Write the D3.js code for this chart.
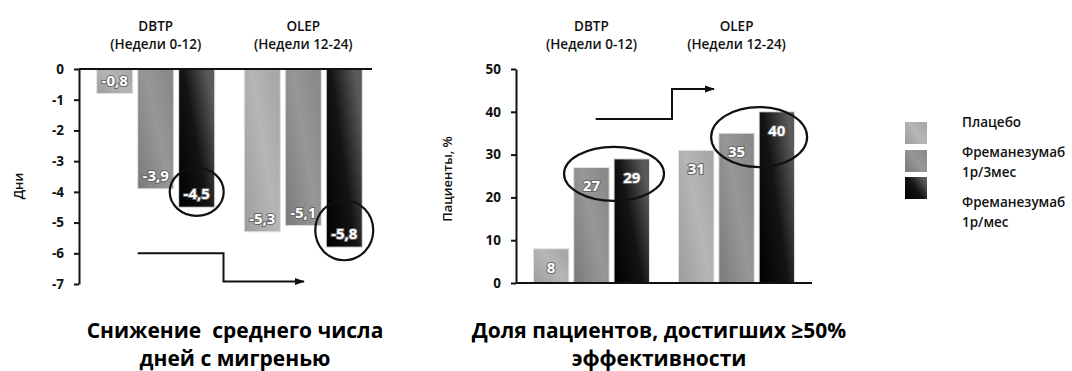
<!DOCTYPE html>
<html><head><meta charset="utf-8">
<script src="https://cdn.jsdelivr.net/npm/d3@7"></script>
<style>
html,body{margin:0;padding:0;background:#fff;}
svg{display:block;font-family:"Open Sans","Noto Sans",sans-serif;}
.pre{white-space:pre;}
</style></head><body>
<svg id="c" width="1072" height="371"></svg>
<script>
const groups = ["DBTP", "OLEP"];
const groupSub = ["(Недели 0-12)", "(Недели 12-24)"];
const series = ["Плацебо", "Фреманезумаб 1р/3мес", "Фреманезумаб 1р/мес"];
const legendLines = [["Плацебо"], ["Фреманезумаб", "1р/3мес"], ["Фреманезумаб", "1р/мес"]];
const daysValues = [[-0.8, -3.9, -4.5], [-5.3, -5.1, -5.8]];
const daysLabels = [["-0,8", "-3,9", "-4,5"], ["-5,3", "-5,1", "-5,8"]];
const respValues = [[8, 27, 29], [31, 35, 40]];
const daysTicks = [0, -1, -2, -3, -4, -5, -6, -7];
const respTicks = [0, 10, 20, 30, 40, 50];
const titleLeft = ["Снижение  среднего числа", "дней с мигренью"];
const titleRight = ["Доля пациентов, достигших ≥50%", "эффективности"];

const svg = d3.select("#c");
const defs = svg.append("defs");
const grads = [
  ["g0", [["0%", "#9c9c9c"], ["60%", "#b6b6b6"], ["100%", "#a8a8a8"]]],
  ["g1", [["0%", "#7a7a7a"], ["60%", "#979797"], ["100%", "#8a8a8a"]]],
  ["g2", [["0%", "#000"], ["55%", "#141414"], ["100%", "#5a5a5a"]]]
];
grads.forEach(([id, stops]) => {
  const g = defs.append("linearGradient").attr("id", id).attr("x1", "0").attr("y1", "1").attr("x2", "1").attr("y2", "0.3");
  stops.forEach(s => g.append("stop").attr("offset", s[0]).attr("stop-color", s[1]));
});
defs.append("marker").attr("id", "arr").attr("viewBox", "0 0 10 10").attr("refX", 9).attr("refY", 5)
  .attr("markerWidth", 5).attr("markerHeight", 5).attr("orient", "auto")
  .append("path").attr("d", "M0,1.5 L10,5 L0,8.5 Z").attr("fill", "#111");

function chart(opt) {
  const g = svg.append("g");
  const x0 = d3.scaleBand().domain(groups).range(opt.xr).paddingInner(0.2).paddingOuter(0.12);
  const x1 = d3.scaleBand().domain(series).range([0, x0.bandwidth()]).paddingInner(0.12);
  const y = d3.scaleLinear().domain(opt.yd).range(opt.yr);
  groups.forEach((gr, gi) => {
    series.forEach((s, si) => {
      const v = opt.values[gi][si];
      const bx = x0(gr) + x1(s);
      g.append("rect").attr("x", bx).attr("width", x1.bandwidth())
        .attr("y", Math.min(y(0), y(v))).attr("height", Math.abs(y(v) - y(0)))
        .attr("fill", `url(#g${si})`).attr("stroke", "#e4e4e4").attr("stroke-width", 1);
      g.append("text").attr("x", bx + x1.bandwidth() / 2).attr("y", y(v) + opt.labelOff)
        .attr("text-anchor", "middle").attr("font-size", 15).attr("font-weight", "bold")
        .attr("fill", "#fff").attr("stroke", "#666").attr("stroke-width", 2).attr("paint-order", "stroke")
        .text(opt.labels[gi][si]);
    });
    g.append("text").attr("x", x0(gr) + x0.bandwidth() / 2).attr("y", 31).attr("text-anchor", "middle")
      .attr("font-size", 13.5).attr("font-weight", 600).attr("fill", "#111").text(gr);
    g.append("text").attr("x", x0(gr) + x0.bandwidth() / 2).attr("y", 49).attr("text-anchor", "middle")
      .attr("font-size", 13.5).attr("font-weight", 600).attr("fill", "#111").text(groupSub[gi]);
  });
  const ya = g.append("g").attr("transform", `translate(${opt.xr[0]},0)`)
    .call(d3.axisLeft(y).tickValues(opt.ticks).tickSize(5).tickSizeOuter(0).tickFormat(d3.format("d")));
  ya.select(".domain").attr("stroke", "#111").attr("stroke-width", 2);
  ya.selectAll(".tick line").attr("stroke", "#111").attr("stroke-width", 2);
  ya.selectAll(".tick text").attr("font-size", 13.5).attr("font-weight", "bold").attr("fill", "#111")
    .attr("font-family", "Open Sans").attr("x", -15).text(d => d < 0 ? "-" + Math.abs(d) : d);
  g.append("line").attr("x1", opt.xr[0]).attr("x2", opt.axEnd).attr("y1", y(0)).attr("y2", y(0))
    .attr("stroke", "#111").attr("stroke-width", 2);
  g.append("text").attr("transform", `translate(${opt.ylabX},${opt.ylabY}) rotate(-90)`)
    .attr("text-anchor", "middle").attr("font-size", 13).attr("font-weight", 600).attr("fill", "#111").text(opt.ylab);
  opt.title.forEach((t, i) => g.append("text").attr("class", "pre").attr("x", opt.titleX).attr("y", 338 + i * 27.5)
    .attr("text-anchor", "middle").attr("font-size", 21).attr("font-weight", "bold").attr("fill", "#000")
    .text(t));
  return {g, x0, x1, y};
}

const L = chart({xr: [79, 380], axEnd: 372, yd: [-7, 0], yr: [284, 69], values: daysValues, labels: daysLabels,
  labelOff: -8, ticks: daysTicks, ylab: "Дни", ylabX: 23, ylabY: 186, title: titleLeft, titleX: 235});
const R = chart({xr: [516, 812], axEnd: 812, yd: [0, 50], yr: [283, 69], values: respValues, labels: respValues,
  labelOff: 24, ticks: respTicks, ylab: "Пациенты, %", ylabX: 452, ylabY: 179, title: titleRight, titleX: 659});

function ell(C, gi, si, edge, yv, rx, ry) {
  const cx = C.x0(groups[gi]) + C.x1(series[si]) + (edge ? 0 : C.x1.bandwidth() / 2);
  C.g.append("ellipse").attr("cx", cx).attr("cy", C.y(yv)).attr("rx", rx).attr("ry", ry)
    .attr("fill", "none").attr("stroke", "#111").attr("stroke-width", 2.2);
}
ell(L, 0, 2, false, -4.0, 27, 24);
ell(L, 1, 2, false, -5.25, 29, 30);
ell(R, 0, 2, true, 25.5, 50, 27);
ell(R, 1, 2, true, 34.1, 48, 30);

function arrow(C, pts) {
  C.g.append("path").attr("d", d3.line()(pts)).attr("fill", "none").attr("stroke", "#111")
    .attr("stroke-width", 2).attr("marker-end", "url(#arr)");
}
const lx = L.x0(groups[0]) + L.x1(series[1]);
const lmid = (L.x0(groups[0]) + L.x0.bandwidth() + L.x0(groups[1])) / 2 - 6;
arrow(L, [[lx, L.y(-6)], [lmid, L.y(-6)], [lmid, L.y(-6.92)], [304, L.y(-6.92)]]);
const rx0 = R.x0(groups[0]) + R.x1(series[1]) + 22;
const rmid = (R.x0(groups[0]) + R.x0.bandwidth() + R.x0(groups[1])) / 2 + 8;
arrow(R, [[rx0, R.y(38.3)], [rmid, R.y(38.3)], [rmid, R.y(45.3)], [714, R.y(45.3)]]);

const lg = svg.append("g").attr("transform", "translate(905,122)");
const lgY = [0, 28, 55];
const lgTextY = [[5], [35, 55], [85, 105]];
series.forEach((s, i) => {
  lg.append("rect").attr("x", 0).attr("y", lgY[i]).attr("width", 22).attr("height", 22).attr("fill", `url(#g${i})`);
  legendLines[i].forEach((t, j) => lg.append("text").attr("x", 57).attr("y", lgTextY[i][j])
    .attr("font-size", 13.5).attr("font-weight", 600).attr("fill", "#111").text(t));
});
</script>
</body></html>
